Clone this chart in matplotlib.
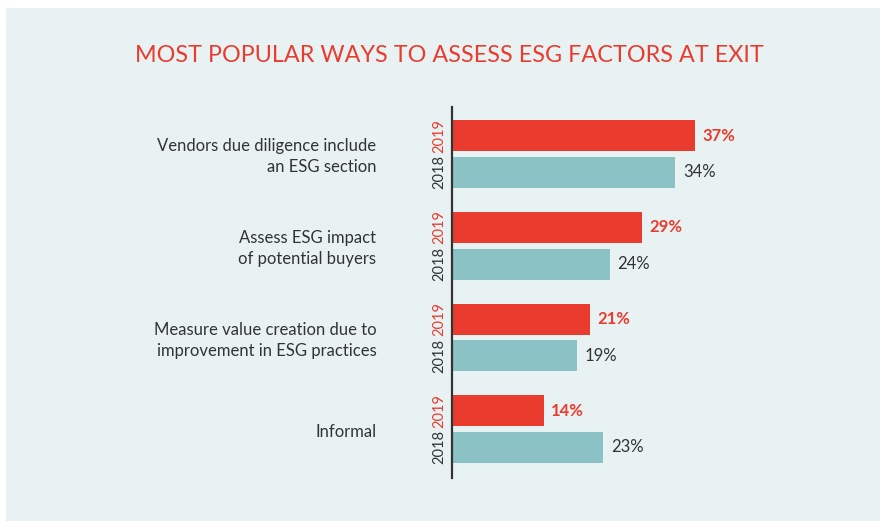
import numpy as np
import matplotlib.pyplot as plt
from matplotlib.patches import Rectangle

categories = ["Vendors due diligence include\nan ESG section",
              "Assess ESG impact\nof potential buyers",
              "Measure value creation due to\nimprovement in ESG practices",
              "Informal"]
vals_2019 = [37, 29, 21, 14]
vals_2018 = [34, 24, 19, 23]

red = "#e93c2f"
teal = "#8bc2c6"
bg = "#e8f2f3"
dark = "#333333"

plt.rcParams['font.family'] = ['Lato', 'DejaVu Sans']

fig = plt.figure(figsize=(8.8, 5.21), dpi=100)
fig.patches.append(Rectangle((6 / 880, 0), 1, 1 - 8 / 521, transform=fig.transFigure,
                             facecolor=bg, edgecolor='none', zorder=-10))

fig.text(449 / 880, 1 - 55 / 521, "MOST POPULAR WAYS TO ASSESS ESG FACTORS AT EXIT",
         ha='center', va='center', color=red, fontsize=16.8)

ax = fig.add_axes([452 / 880, 1 - 478 / 521, 394 / 880, 371 / 521])
ax.set_facecolor('none')

y = np.arange(len(categories))
h = 0.338
off = 0.2
ax.barh(y - off, vals_2019, height=h, color=red)
ax.barh(y + off, vals_2018, height=h, color=teal)

for i in range(len(categories)):
    ax.text(vals_2019[i] + 1.1, y[i] - off, f"{vals_2019[i]}%", va='center', ha='left',
            color=red, fontsize=12, fontweight='bold')
    ax.text(vals_2018[i] + 1.2, y[i] + off, f"{vals_2018[i]}%", va='center', ha='left',
            color=dark, fontsize=12)
    ax.text(-1.9, y[i] - off, "2019", rotation=90, va='center', ha='center',
            color=red, fontsize=10.5)
    ax.text(-1.9, y[i] + off, "2018", rotation=90, va='center', ha='center',
            color=dark, fontsize=10.5)
    ax.text(-11.5, y[i] + 0.03, categories[i], va='center', ha='right', color=dark,
            fontsize=12, linespacing=1.4)

ax.set_xlim(0, 60)
ax.set_ylim(3.534, -0.513)
for s in ['top', 'right', 'bottom']:
    ax.spines[s].set_visible(False)
ax.spines['left'].set_color(dark)
ax.spines['left'].set_linewidth(1.6)
ax.set_xticks([])
ax.set_yticks([])

fig.savefig("out.png", dpi=100)
